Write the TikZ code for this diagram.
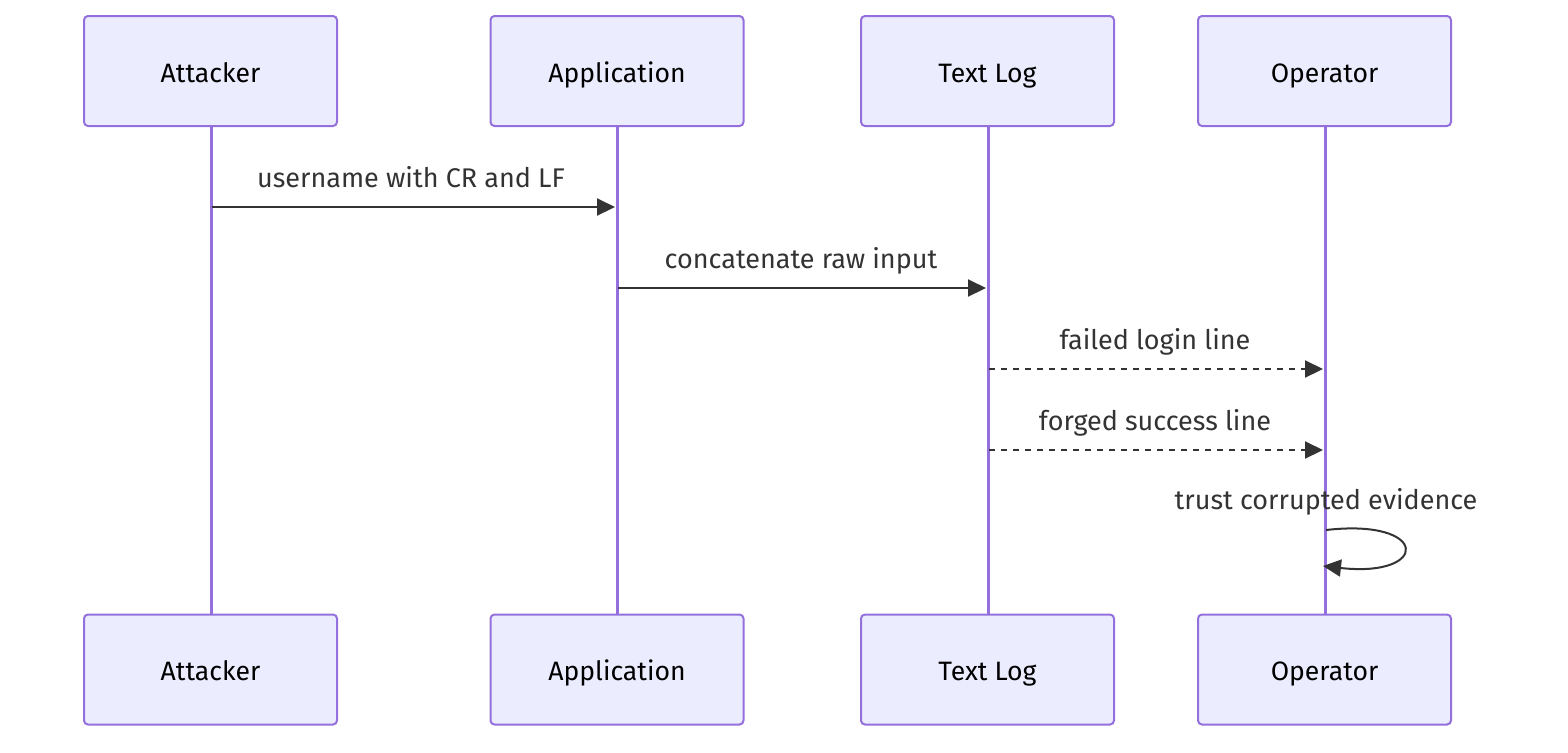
\documentclass[tikz,border=0pt]{standalone}
\usepackage{fontspec}
\setmainfont{Fira Sans}
\usetikzlibrary{arrows.meta}
\definecolor{boxfill}{HTML}{ECECFF}
\definecolor{boxline}{HTML}{9370DB}
\definecolor{msg}{HTML}{333333}
\tikzset{
  actor/.style={draw=boxline, fill=boxfill, line width=1pt, rounded corners=2pt,
    minimum width=126.5pt, minimum height=55pt, inner sep=0pt,
    text height=12pt, text depth=1pt,
    font=\fontsize{13.3}{15}\selectfont, text=black},
  life/.style={draw=boxline, line width=1.5pt},
  msgarrow/.style={draw=msg, line width=1pt, -{Triangle[length=9pt,width=8.5pt]}},
  msgdash/.style={msgarrow, dash pattern=on 3pt off 3pt},
  msglabel/.style={font=\fontsize{13.5}{16}\selectfont, text=msg, inner sep=0pt, anchor=base}
}
\begin{document}
\begin{tikzpicture}[x=0.5pt,y=-0.5pt]
\useasboundingbox (0,0) rectangle (1568,752);
% lifelines (behind boxes)
\draw[life] (211,126) -- (211,615);
\draw[life] (617,126) -- (617,615);
\draw[life] (988,126) -- (988,615);
\draw[life] (1325,126) -- (1325,615);
% actor boxes
\node[actor] (a1) at (210.5,71) {Attacker};
\node[actor] (b1) at (617,71) {Application};
\node[actor] (c1) at (987.5,71) {Text Log};
\node[actor] (d1) at (1324.5,71) {Operator};
\node[actor] (a2) at (210.5,669.5) {Attacker};
\node[actor] (b2) at (617,669.5) {Application};
\node[actor] (c2) at (987.5,669.5) {Text Log};
\node[actor] (d2) at (1324.5,669.5) {Operator};
% message anchor coordinates
\coordinate (m1s) at (212,207); \coordinate (m1e) at (615,207);
\coordinate (m2s) at (618,288); \coordinate (m2e) at (986,288);
\coordinate (m3s) at (989,369); \coordinate (m3e) at (1323,369);
\coordinate (m4s) at (989,450); \coordinate (m4e) at (1323,450);
\coordinate (m5s) at (1326,530); \coordinate (m5e) at (1323,566);
% messages
\draw[msgarrow] (m1s) -- (m1e);
\node[msglabel] (t1) at (411,187) {username with CR and LF};
\draw[msgarrow] (m2s) -- (m2e);
\node[msglabel] (t2) at (801,268) {concatenate raw input};
\draw[msgdash] (m3s) -- (m3e);
\node[msglabel] (t3) at (1155,349) {failed login line};
\draw[msgdash] (m4s) -- (m4e);
\node[msglabel] (t4) at (1155,430) {forged success line};
\node[msglabel] (t5) at (1326,509) {trust corrupted evidence};
\draw[msgarrow] (m5s) .. controls (1430,518) and (1430,578) .. (m5e);
\end{tikzpicture}
\end{document}
